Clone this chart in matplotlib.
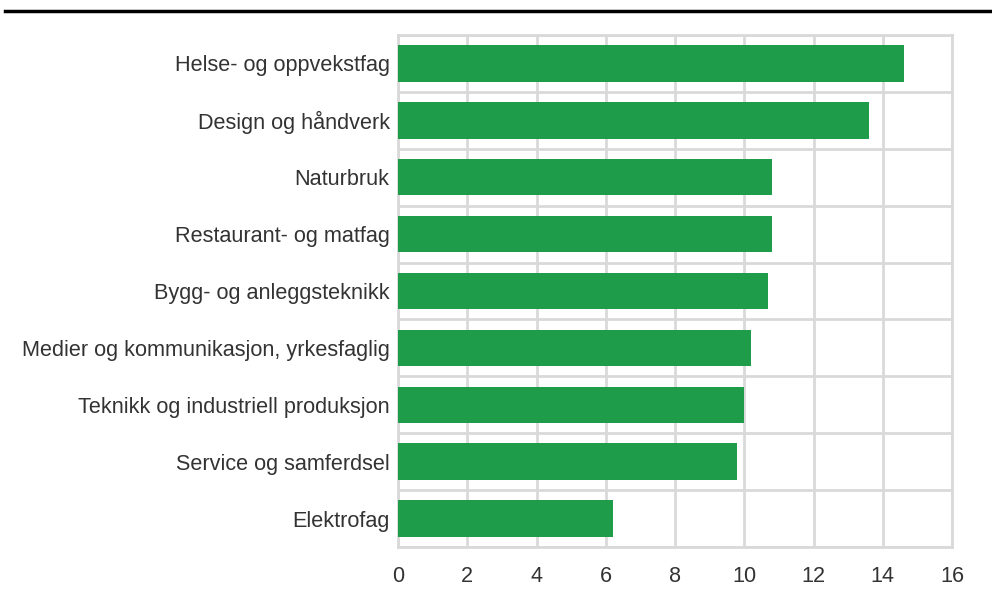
import matplotlib
matplotlib.use("Agg")
import matplotlib.pyplot as plt
from matplotlib.lines import Line2D
import numpy as np

categories = [
    "Helse- og oppvekstfag",
    "Design og håndverk",
    "Naturbruk",
    "Restaurant- og matfag",
    "Bygg- og anleggsteknikk",
    "Medier og kommunikasjon, yrkesfaglig",
    "Teknikk og industriell produksjon",
    "Service og samferdsel",
    "Elektrofag",
]
values = [14.6, 13.6, 10.8, 10.8, 10.7, 10.2, 10.0, 9.8, 6.2]
xticks = [0, 2, 4, 6, 8, 10, 12, 14, 16]

plt.rcParams['font.family'] = ['Liberation Sans', 'DejaVu Sans']

fig = plt.figure(figsize=(9.92, 5.95), dpi=100)
ax = fig.add_axes([398/992, 1 - 547/595, (952 - 398)/992, (547 - 35)/595])

grid_color = "#d9d9d9"
y = np.arange(len(categories))
ax.barh(y, values, height=0.64, color="#1e9c4a", zorder=3)
ax.set_ylim(len(categories) - 0.5, -0.5)
ax.set_xlim(0, 16)
ax.set_xticks(xticks)
ax.set_xticklabels([str(t) for t in xticks])
ax.set_yticks(y)
ax.set_yticklabels(categories)
ax.set_yticks(np.arange(len(categories) + 1) - 0.5, minor=True)

ax.grid(axis="x", which="major", color=grid_color, lw=2, zorder=0)
ax.grid(axis="y", which="minor", color=grid_color, lw=2, zorder=0)
ax.grid(axis="y", which="major", visible=False)
for s in ax.spines.values():
    s.set_color(grid_color)
    s.set_linewidth(2)
    s.set_zorder(0)

ax.tick_params(axis="both", which="both", length=0, labelsize=15.6, colors="#333333")
ax.tick_params(axis="x", pad=14)
ax.tick_params(axis="y", pad=6)
ax.set_axisbelow(True)

fig.add_artist(Line2D([5/992, 1.0], [1 - 11/595, 1 - 11/595], color="black", lw=2.5,
                      transform=fig.transFigure))

fig.savefig("out.png", dpi=100)
